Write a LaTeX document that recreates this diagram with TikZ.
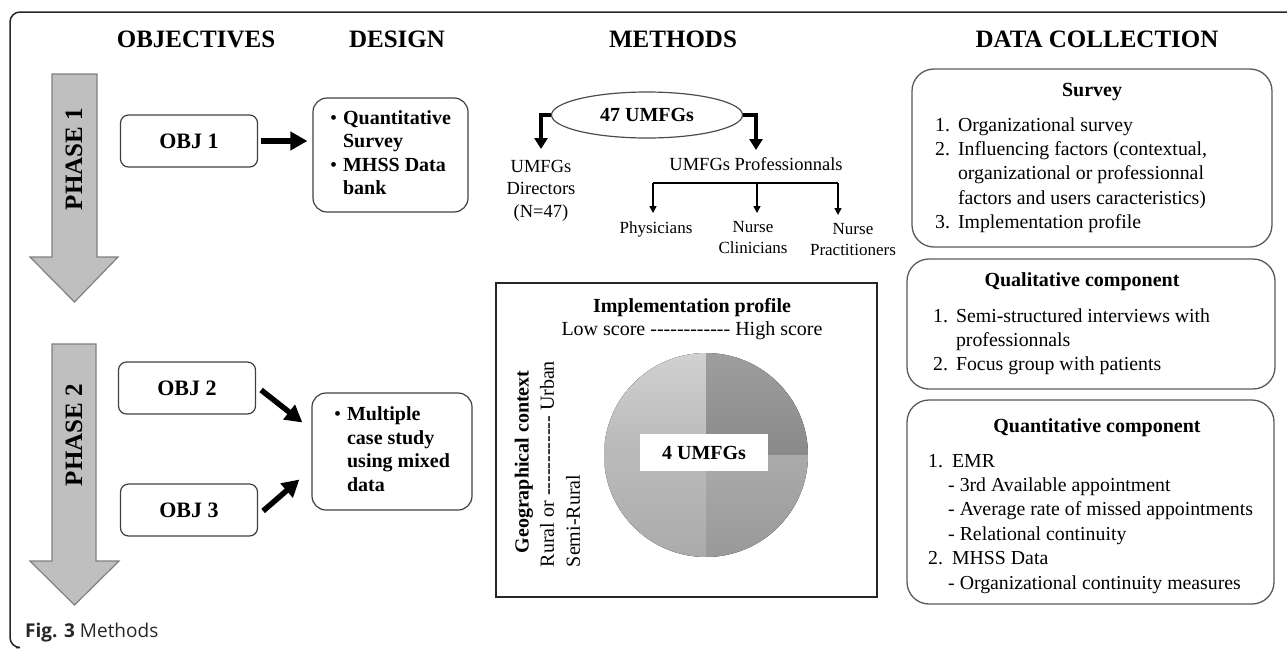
\documentclass[tikz,border=0pt]{standalone}
\usepackage{fontspec}
\setmainfont{Liberation Serif}
\newfontfamily\captionfont{Open Sans}
\usetikzlibrary{positioning}
\usetikzlibrary{shapes,arrows}
\usetikzlibrary{arrows.meta}
\newcommand\dashrow{-{}-{}-{}-{}-{}-{}-{}-{}-{}-{}-{}-}
\tikzset{
	heading/.style={font=\fontsize{25}{30}\selectfont\bfseries, anchor=base},
	objbox/.style={
		rectangle,
		draw=black!75,
		line width=1.2pt,
		rounded corners=8pt,
		minimum width=137pt,
		minimum height=52pt,
		font=\fontsize{22}{26}\selectfont\bfseries
	},
	designbox/.style={
		rectangle,
		draw=black!75,
		line width=1.2pt,
		rounded corners=14pt,
		font=\fontsize{20}{23.5}\selectfont\bfseries
	},
	databox/.style={
		rectangle,
		draw=black!65,
		line width=1.3pt,
		rounded corners=22pt
	},
	boxtitle/.style={font=\fontsize{20}{24}\selectfont\bfseries, anchor=base},
	itemlist/.style={font=\fontsize{19.8}{24.4}\selectfont, anchor=base west, inner sep=0pt},
	phase/.style={fill=black!25, draw=black!50, line width=1.2pt},
	fatarrow/.style={line width=5.5pt, -{Triangle[length=17pt,width=18pt]}},
	boldarrow/.style={line width=3.5pt, -{Triangle[length=11pt,width=13pt]}},
	thinarrow/.style={line width=1.5pt, -{Triangle[length=7pt,width=7pt]}},
	leaf/.style={font=\fontsize{17}{21}\selectfont, align=center, anchor=north, inner xsep=1pt, inner ysep=8pt}
}

\begin{document}
\begin{tikzpicture}[x=1pt, y=-1pt]
	\useasboundingbox (0,0) rectangle (1287,649);
	% frame
	\draw[black!85, line width=1.5pt, rounded corners=10pt] (1287,12) -- (10,12) -- (10,647.5) -- (16,647.5);
	
	% headings
	\node[heading] (hObj) at (196,47) {OBJECTIVES};
	\node[heading] (hDesign) at (397,47) {DESIGN};
	\node[heading] (hMethods) at (673,47) {METHODS};
	\node[heading] (hData) at (1097,47) {DATA COLLECTION};
	
	% phases
	\draw[phase] (52,74) -- (97,74) -- (97,257) -- (118,257) -- (74.5,302) -- (30,257) -- (52,257) -- cycle;
	\draw[phase] (52,344) -- (96,344) -- (96,561) -- (119,561) -- (74.5,605) -- (30,561) -- (52,561) -- cycle;
	\node[heading, anchor=center, rotate=90] (Phase1) at (74,159) {PHASE 1};
	\node[heading, anchor=center, rotate=90] (Phase2) at (74,435) {PHASE 2};
	
	% objectives and design
	\node[objbox] (Obj1) at (189,141) {OBJ 1};
	\node[objbox] (Obj2) at (187,388) {OBJ 2};
	\node[objbox] (Obj3) at (189,510) {OBJ 3};
	\node[designbox, minimum width=155pt, minimum height=114pt] (Design1) at (390.5,155)
		{\begin{tabular}{@{}c@{\hspace{6pt}}l@{}}{\normalfont\textbullet} & Quantitative\\ & Survey\\ {\normalfont\textbullet} & MHSS Data\\ & bank\end{tabular}};
	\node[designbox, minimum width=160pt, minimum height=117pt] (Design2) at (392,451.5)
		{\begin{tabular}{@{}c@{\hspace{6pt}}l@{}}{\normalfont\textbullet} & Multiple\\ & case study\\ & using mixed\\ & data\end{tabular}};
	
	\draw[fatarrow] ([xshift=3pt]Obj1.east) -- ([xshift=-5pt]Obj1.east -| Design1.west);
	\draw[fatarrow] ([shift={(5,2)}]Obj2.east) -- ([shift={(-9,-29)}]Design2.west);
	\draw[fatarrow] ([shift={(5,1)}]Obj3.east) -- ([shift={(-12,28)}]Design2.west);
	
	% methods tree
	\node[draw=black!70, line width=1.2pt, ellipse, minimum width=191pt, minimum height=46pt,
		font=\fontsize{20}{24}\selectfont\bfseries] (Umfgs) at (647,115) {47 UMFGs};
	\node[font=\fontsize{18.5}{22.5}\selectfont, align=center, anchor=north, inner xsep=1pt, inner ysep=11pt]
		(Directors) at (541,149) {UMFGs\\Directors\\(N=47)};
	\node[font=\fontsize{18.5}{22.5}\selectfont, anchor=north, inner xsep=1pt, inner ysep=7pt]
		(Profs) at (756,150) {UMFGs Professionnals};
	\draw[boldarrow] (Umfgs.west) -| (Directors.north);
	\draw[boldarrow] (Umfgs.east) -| (Profs.north);
	
	\node[leaf] (Phys) at (656,213) {Physicians};
	\node[leaf] (Clin) at (753,213) {Nurse\\Clinicians};
	\node[leaf] (Pract) at (853,215) {Nurse\\Practitioners};
	\coordinate (DropA) at (653,183);
	\coordinate (DropB) at (757,183);
	\coordinate (DropC) at (838,183);
	\draw[line width=1.5pt] (DropA) -- (DropC);
	\draw[thinarrow] (DropA) -- (DropA |- Phys.north);
	\draw[thinarrow] (DropB) -- (DropB |- Clin.north);
	\draw[thinarrow] (DropC) -- (DropC |- Pract.north);
	
	% implementation profile
	\node[draw=black!85, line width=1.3pt, minimum width=381pt, minimum height=314pt] (Profile) at (686.5,440) {};
	\node[boxtitle] (ProfileT) at (692,312) {Implementation profile};
	\node[font=\fontsize{20}{24}\selectfont, anchor=base] (Score) at (692,335) {Low score \dashrow{} High score};
	\begin{scope}
		\clip (706,455) circle[radius=102pt];
		\fill[top color=black!18, bottom color=black!28] (604,353) rectangle (706,455);
		\fill[top color=black!38, bottom color=black!46] (706,353) rectangle (808,455);
		\fill[top color=black!27, bottom color=black!33] (604,455) rectangle (706,557);
		\fill[top color=black!33, bottom color=black!40] (706,455) rectangle (808,557);
	\end{scope}
	\node[fill=white, minimum width=128pt, minimum height=37pt, font=\fontsize{20}{24}\selectfont\bfseries] (Four) at (704,452.5) {4 UMFGs};
	\node[rotate=90, font=\fontsize{20}{24}\selectfont\bfseries] (GeoLabel) at (524,462) {Geographical context};
	\node[rotate=90, align=left, font=\fontsize{20}{26}\selectfont] (GeoAxis) at (560,464) {Rural or \dashrow{} Urban\\Semi-Rural};
	
	% data collection
	\node[databox, minimum width=360pt, minimum height=178pt] (Survey) at (1092,158) {};
	\node[boxtitle] (SurveyT) at (1092,96) {Survey};
	\node[itemlist] (SurveyL) at (935,131) {\begin{tabular}[t]{@{}r@{\hspace{8pt}}l@{}}
		1. & Organizational survey\\
		2. & Influencing factors (contextual,\\
		   & organizational or professionnal\\
		   & factors and users caracteristics)\\
		3. & Implementation profile
	\end{tabular}};
	
	\node[databox, minimum width=368pt, minimum height=130pt] (Quali) at (1091,324) {};
	\node[boxtitle] (QualiT) at (1082,286) {Qualitative component};
	\node[itemlist] (QualiL) at (933,322) {\begin{tabular}[t]{@{}r@{\hspace{8pt}}l@{}}
		1. & Semi-structured interviews with\\
		   & professionnals\\
		2. & Focus group with patients
	\end{tabular}};
	
	\node[databox, minimum width=367pt, minimum height=204pt] (Quanti) at (1090.5,502) {};
	\node[boxtitle] (QuantiT) at (1097,432) {Quantitative component};
	\node[itemlist] (QuantiL) at (928,467) {\begin{tabular}[t]{@{}l@{}}
		1.\hspace{9pt}EMR\\
		\hspace{20pt}- 3rd Available appointment\\
		\hspace{20pt}- Average rate of missed appointments\\
		\hspace{20pt}- Relational continuity\\
		2.\hspace{9pt}MHSS Data\\
		\hspace{20pt}- Organizational continuity measures
	\end{tabular}};
	
	% caption
	\node[anchor=base west, inner sep=0pt, text=black!85, font=\captionfont\fontsize{19}{23}\selectfont] (Caption) at (25,637) {\textbf{Fig. 3} Methods};
\end{tikzpicture}
\end{document}
